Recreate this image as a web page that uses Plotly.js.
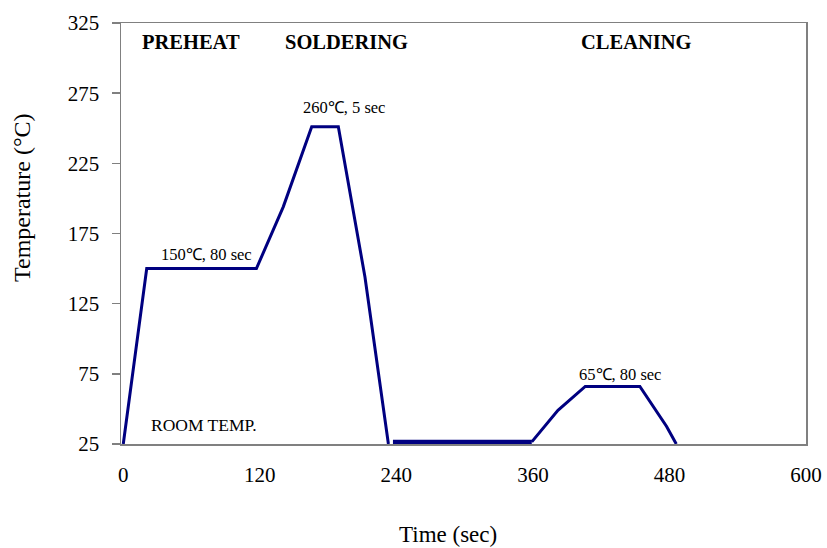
<!DOCTYPE html>
<html>
<head>
<meta charset="utf-8">
<script src="https://cdn.plot.ly/plotly-3.0.1.min.js"></script>
<style>html,body{margin:0;padding:0;background:#fff;}#chart{width:827px;height:548px;}</style>
</head>
<body>
<div id="chart"></div>
<script>
// Reflow soldering profile (time in sec, temperature in °C)
const heatTime = [0, 20.6, 117, 140.6, 165.6, 189, 212.4, 233];
const heatTemp = [25, 150, 150, 194, 251, 251, 144, 25];
const holdTime = [237, 359];
const holdTemp = [26.5, 26.5];
const cleanTime = [359, 382, 406, 454, 477.5, 486];
const cleanTemp = [26.5, 49, 66, 66, 37.5, 25];

const xTicks = [0, 120, 240, 360, 480, 600];
const yTicks = [25, 75, 125, 175, 225, 275, 325];

const phaseLabels = ["PREHEAT", "SOLDERING", "CLEANING"];
const phaseX = [59.5, 196.4, 451.4];
const phaseY = [311.7, 311.7, 311.7];

const noteLabels = ["260℃, 5 sec", "150℃, 80 sec", "65℃, 80 sec", "ROOM TEMP."];
const noteX = [193.9, 72.7, 436.6, 70.9];
const noteY = [264.7, 160, 74.4, 38.8];
const noteSize = [16.5, 16.5, 16.5, 17.5];

const xTitle = "Time (sec)";
const yTitle = "Temperature (°C)";

const lineColor = "#000080";
const serif = "Liberation Serif, Times New Roman, serif";

const traces = [
  {x: heatTime, y: heatTemp, mode: "lines", line: {color: lineColor, width: 3}, hoverinfo: "x+y"},
  {x: holdTime, y: holdTemp, mode: "lines", line: {color: lineColor, width: 4.5}, hoverinfo: "x+y"},
  {x: cleanTime, y: cleanTemp, mode: "lines", line: {color: lineColor, width: 3}, hoverinfo: "x+y"}
];

const annotations = [];
phaseLabels.forEach((t, i) => annotations.push({
  text: "<b>" + t + "</b>", x: phaseX[i], y: phaseY[i], xref: "x", yref: "y",
  showarrow: false, xanchor: "center", yanchor: "middle",
  font: {family: serif, size: 20.5, color: "#000"}
}));
noteLabels.forEach((t, i) => annotations.push({
  text: t, x: noteX[i], y: noteY[i], xref: "x", yref: "y",
  showarrow: false, xanchor: "center", yanchor: "middle",
  font: {family: serif, size: noteSize[i], color: "#000"}
}));

const W = 827, H = 548, mL = 121, mR = 21, mT = 23, mB = 104;
const pw = W - mL - mR, ph = H - mT - mB;
annotations.push({
  text: xTitle, x: (448 - mL) / pw, y: (H - mB - 534) / ph, xref: "paper", yref: "paper",
  showarrow: false, xanchor: "center", yanchor: "middle",
  font: {family: serif, size: 23, color: "#000"}
});
annotations.push({
  text: yTitle, textangle: -90, x: (22 - mL) / pw, y: (H - mB - 198) / ph,
  xref: "paper", yref: "paper",
  showarrow: false, xanchor: "center", yanchor: "middle",
  font: {family: serif, size: 24, color: "#000"}
});

const layout = {
  width: W, height: H,
  margin: {l: mL, r: mR, t: mT, b: mB, pad: 0},
  paper_bgcolor: "#fff", plot_bgcolor: "#fff",
  showlegend: false,
  xaxis: {
    range: [-2, 600], tickvals: xTicks, ticktext: xTicks.map(String),
    ticks: "", showgrid: false, zeroline: false,
    showline: true, mirror: true, linecolor: "#808080", linewidth: 1.5,
    ticklabelstandoff: 11,
    tickfont: {family: serif, size: 21, color: "#000"}
  },
  yaxis: {
    range: [25, 325], tickvals: yTicks, ticktext: yTicks.map(String),
    ticks: "outside", ticklen: 8, tickcolor: "#808080", tickwidth: 1.5,
    showgrid: false, zeroline: false,
    showline: true, mirror: true, linecolor: "#808080", linewidth: 1.5,
    ticklabelstandoff: 8,
    tickfont: {family: serif, size: 21, color: "#000"}
  },
  annotations: annotations
};

Plotly.newPlot("chart", traces, layout, {displayModeBar: false, staticPlot: true});
</script>
</body>
</html>
